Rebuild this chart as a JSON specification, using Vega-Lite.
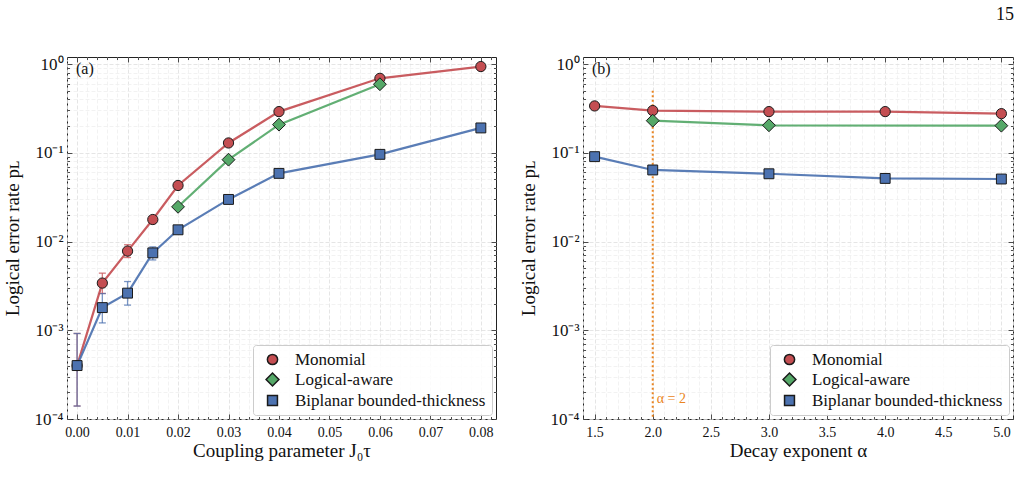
{
  "$schema": "https://vega.github.io/schema/vega-lite/v6.json",
  "padding": {"left": 2, "top": 5, "right": 0, "bottom": 0},
  "bounds": "flush",
  "spacing": 87,
  "title": {"text": "15", "anchor": "end", "fontSize": 18, "fontWeight": "normal", "offset": 31, "color": "#111"},
  "config": {
    "font": "Liberation Serif",
    "view": {"stroke": "#222", "strokeWidth": 1},
    "axis": {
      "labelFont": "Liberation Serif",
      "labelFontSize": 14,
      "labelColor": "#111",
      "titleFont": "Liberation Serif",
      "titleFontSize": 19,
      "titleFontWeight": "normal",
      "titleColor": "#111",
      "tickColor": "#222",
      "tickWidth": 0.8,
      "domain": false,
      "labelFlush": false,
      "labelOverlap": false,
      "labelBound": false,
      "gridDash": [4, 2],
      "gridWidth": 0.8
    },
    "legend": {
      "orient": "bottom-right",
      "offset": 4,
      "labelFont": "Liberation Serif",
      "labelFontSize": 17,
      "labelColor": "#111",
      "labelLimit": 400,
      "symbolOffset": 5,
      "labelOffset": 14,
      "rowPadding": 2,
      "padding": 6,
      "fillColor": "rgba(255,255,255,0.85)",
      "strokeColor": "#cccccc",
      "cornerRadius": 3
    },
    "title": {"font": "Liberation Serif"}
  },
  "datasets": {
    "coupling": [
      {"J0tau": 0.0, "method": "Monomial", "pL": 0.0004, "lo": 0.00014, "hi": 0.00092},
      {"J0tau": 0.005, "method": "Monomial", "pL": 0.0034, "lo": 0.0026, "hi": 0.0044},
      {"J0tau": 0.01, "method": "Monomial", "pL": 0.0078, "lo": 0.0066, "hi": 0.0092},
      {"J0tau": 0.015, "method": "Monomial", "pL": 0.0177},
      {"J0tau": 0.02, "method": "Monomial", "pL": 0.0428},
      {"J0tau": 0.03, "method": "Monomial", "pL": 0.129},
      {"J0tau": 0.04, "method": "Monomial", "pL": 0.291},
      {"J0tau": 0.06, "method": "Monomial", "pL": 0.69},
      {"J0tau": 0.08, "method": "Monomial", "pL": 0.937},
      {"J0tau": 0.02, "method": "Logical-aware", "pL": 0.0246},
      {"J0tau": 0.03, "method": "Logical-aware", "pL": 0.0836},
      {"J0tau": 0.04, "method": "Logical-aware", "pL": 0.2075},
      {"J0tau": 0.06, "method": "Logical-aware", "pL": 0.592},
      {"J0tau": 0.0, "method": "Biplanar bounded-thickness", "pL": 0.0004, "lo": 0.00014, "hi": 0.00092},
      {"J0tau": 0.005, "method": "Biplanar bounded-thickness", "pL": 0.0018, "lo": 0.00121, "hi": 0.00259},
      {"J0tau": 0.01, "method": "Biplanar bounded-thickness", "pL": 0.00262, "lo": 0.00192, "hi": 0.00354},
      {"J0tau": 0.015, "method": "Biplanar bounded-thickness", "pL": 0.00745, "lo": 0.0062, "hi": 0.0087},
      {"J0tau": 0.02, "method": "Biplanar bounded-thickness", "pL": 0.01355},
      {"J0tau": 0.03, "method": "Biplanar bounded-thickness", "pL": 0.0298},
      {"J0tau": 0.04, "method": "Biplanar bounded-thickness", "pL": 0.0586},
      {"J0tau": 0.06, "method": "Biplanar bounded-thickness", "pL": 0.096},
      {"J0tau": 0.08, "method": "Biplanar bounded-thickness", "pL": 0.1905}
    ],
    "decay": [
      {"alpha": 1.5, "method": "Monomial", "pL": 0.337},
      {"alpha": 2.0, "method": "Monomial", "pL": 0.299},
      {"alpha": 3.0, "method": "Monomial", "pL": 0.291},
      {"alpha": 4.0, "method": "Monomial", "pL": 0.291},
      {"alpha": 5.0, "method": "Monomial", "pL": 0.276},
      {"alpha": 2.0, "method": "Logical-aware", "pL": 0.23},
      {"alpha": 3.0, "method": "Logical-aware", "pL": 0.204},
      {"alpha": 5.0, "method": "Logical-aware", "pL": 0.202},
      {"alpha": 1.5, "method": "Biplanar bounded-thickness", "pL": 0.0904},
      {"alpha": 2.0, "method": "Biplanar bounded-thickness", "pL": 0.064},
      {"alpha": 3.0, "method": "Biplanar bounded-thickness", "pL": 0.058},
      {"alpha": 4.0, "method": "Biplanar bounded-thickness", "pL": 0.0514},
      {"alpha": 5.0, "method": "Biplanar bounded-thickness", "pL": 0.0506}
    ],
    "panelLabelA": [{"label": "(a)"}],
    "panelLabelB": [{"label": "(b)"}],
    "reference": [{"alpha": 2, "label": "α = 2"}]
  },
  "resolve": {
    "scale": {"fill": "independent", "shape": "independent", "stroke": "independent", "size": "independent", "color": "independent"},
    "legend": {"fill": "independent", "shape": "independent", "size": "independent"}
  },
  "hconcat": [
    {
      "width": 429,
      "height": 362,
      "data": {"name": "coupling"},
      "resolve": {"axis": {"x": "independent", "y": "independent"}},
      "layer": [
        {
          "transform": [{"filter": "isValid(datum.lo)"}],
          "mark": {"type": "rule", "strokeWidth": 1.3, "opacity": 0.75},
          "encoding": {
            "x": {
              "field": "J0tau", "type": "quantitative",
              "scale": {"domain": [-0.002, 0.083], "nice": false, "zero": false},
              "axis": {
                "orient": "bottom",
                "title": "Coupling parameter J₀τ",
                "titlePadding": 0,
                "values": [-0.002, 0, 0.002, 0.004, 0.006, 0.008, 0.01, 0.012, 0.014, 0.016, 0.018, 0.02, 0.022, 0.024, 0.026, 0.028, 0.03, 0.032, 0.034, 0.036, 0.038, 0.04, 0.042, 0.044, 0.046, 0.048, 0.05, 0.052, 0.054, 0.056, 0.058, 0.06, 0.062, 0.064, 0.066, 0.068, 0.07, 0.072, 0.074, 0.076, 0.078, 0.08, 0.082],
                "labelExpr": "abs(datum.value*100 - round(datum.value*100)) < 1e-6 ? format(datum.value, '.2f') : ''",
                "labelPadding": 11,
                "tickSize": {"condition": {"test": "abs(datum.value*100 - round(datum.value*100)) < 1e-6", "value": -5}, "value": -2.5},
                "grid": true,
                "gridColor": {"condition": {"test": "abs(datum.value*100 - round(datum.value*100)) < 1e-6", "value": "#dedede"}, "value": "#efefef"}
              }
            },
            "y": {
              "field": "lo", "type": "quantitative",
              "scale": {"type": "log", "domain": [0.0001, 1.2], "nice": false},
              "axis": {
                "orient": "left",
                "title": "Logical error rate pʟ",
                "titlePadding": 12,
                "labelFontSize": 17,
                "values": [0.0001, 0.0002, 0.0003, 0.0004, 0.0005, 0.0006, 0.0007, 0.0008, 0.0009, 0.001, 0.002, 0.003, 0.004, 0.005, 0.006, 0.007, 0.008, 0.009, 0.01, 0.02, 0.03, 0.04, 0.05, 0.06, 0.07, 0.08, 0.09, 0.1, 0.2, 0.3, 0.4, 0.5, 0.6, 0.7, 0.8, 0.9, 1],
                "labelExpr": "abs(log(datum.value)/LN10 - round(log(datum.value)/LN10)) < 1e-6 ? '10' + ['⁰','⁻¹','⁻²','⁻³','⁻⁴'][round(-log(datum.value)/LN10)] : ''",
                "labelPadding": 9,
                "tickSize": {"condition": {"test": "abs(log(datum.value)/LN10 - round(log(datum.value)/LN10)) < 1e-6", "value": -5}, "value": -2.5},
                "grid": true,
                "gridColor": {"condition": {"test": "abs(log(datum.value)/LN10 - round(log(datum.value)/LN10)) < 1e-6", "value": "#dedede"}, "value": "#efefef"}
              }
            },
            "y2": {"field": "hi"},
            "stroke": {
              "field": "method", "type": "nominal", "legend": null,
              "scale": {"domain": ["Biplanar bounded-thickness", "Logical-aware", "Monomial"], "range": ["#4c72b0", "#55a868", "#c44e52"]}
            }
          }
        },
        {
          "transform": [{"filter": "isValid(datum.lo)"}],
          "mark": {"type": "tick", "orient": "horizontal", "size": 7, "thickness": 1.3, "opacity": 0.75},
          "encoding": {
            "x": {"field": "J0tau", "type": "quantitative", "axis": null},
            "y": {"field": "lo", "type": "quantitative", "axis": null},
            "color": {"field": "method", "type": "nominal", "legend": null,
              "scale": {"domain": ["Biplanar bounded-thickness", "Logical-aware", "Monomial"], "range": ["#4c72b0", "#55a868", "#c44e52"]}}
          }
        },
        {
          "transform": [{"filter": "isValid(datum.hi)"}],
          "mark": {"type": "tick", "orient": "horizontal", "size": 7, "thickness": 1.3, "opacity": 0.75},
          "encoding": {
            "x": {"field": "J0tau", "type": "quantitative", "axis": null},
            "y": {"field": "hi", "type": "quantitative", "axis": null},
            "color": {"field": "method", "type": "nominal", "legend": null}
          }
        },
        {
          "mark": {"type": "line", "strokeWidth": 2.2, "opacity": 0.92},
          "encoding": {
            "x": {
              "field": "J0tau", "type": "quantitative",
              "axis": {
                "orient": "top", "title": null, "labels": false, "grid": false,
                "values": [-0.002, 0, 0.002, 0.004, 0.006, 0.008, 0.01, 0.012, 0.014, 0.016, 0.018, 0.02, 0.022, 0.024, 0.026, 0.028, 0.03, 0.032, 0.034, 0.036, 0.038, 0.04, 0.042, 0.044, 0.046, 0.048, 0.05, 0.052, 0.054, 0.056, 0.058, 0.06, 0.062, 0.064, 0.066, 0.068, 0.07, 0.072, 0.074, 0.076, 0.078, 0.08, 0.082],
                "tickSize": {"condition": {"test": "abs(datum.value*100 - round(datum.value*100)) < 1e-6", "value": -5}, "value": -2.5}
              }
            },
            "y": {
              "field": "pL", "type": "quantitative",
              "axis": {
                "orient": "right", "title": null, "labels": false, "grid": false,
                "values": [0.0001, 0.0002, 0.0003, 0.0004, 0.0005, 0.0006, 0.0007, 0.0008, 0.0009, 0.001, 0.002, 0.003, 0.004, 0.005, 0.006, 0.007, 0.008, 0.009, 0.01, 0.02, 0.03, 0.04, 0.05, 0.06, 0.07, 0.08, 0.09, 0.1, 0.2, 0.3, 0.4, 0.5, 0.6, 0.7, 0.8, 0.9, 1],
                "tickSize": {"condition": {"test": "abs(log(datum.value)/LN10 - round(log(datum.value)/LN10)) < 1e-6", "value": -5}, "value": -2.5}
              }
            },
            "stroke": {"field": "method", "type": "nominal", "legend": null}
          }
        },
        {
          "mark": {"type": "point", "filled": true, "opacity": 1, "stroke": "#1a1a1a", "strokeWidth": 1},
          "encoding": {
            "x": {"field": "J0tau", "type": "quantitative", "axis": null},
            "y": {"field": "pL", "type": "quantitative", "axis": null},
            "fill": {
              "field": "method", "type": "nominal", "title": null,
              "scale": {"domain": ["Monomial", "Logical-aware", "Biplanar bounded-thickness"], "range": ["#c44e52", "#55a868", "#4c72b0"]},
              "legend": {"encode": {"symbols": {"update": {"stroke": {"value": "#1a1a1a"}, "strokeWidth": {"value": 1}}}}}
            },
            "shape": {
              "field": "method", "type": "nominal", "title": null,
              "scale": {"domain": ["Monomial", "Logical-aware", "Biplanar bounded-thickness"], "range": ["circle", "diamond", "square"]}
            },
            "size": {
              "field": "method", "type": "nominal", "title": null,
              "scale": {"type": "ordinal", "domain": ["Monomial", "Logical-aware", "Biplanar bounded-thickness"], "range": [105, 165, 98]}
            }
          }
        },
        {
          "data": {"name": "panelLabelA"},
          "mark": {"type": "text", "align": "left", "baseline": "top", "dx": 9, "dy": 4, "fontSize": 16, "color": "#111"},
          "encoding": {
            "x": {"datum": -0.002, "type": "quantitative", "axis": null},
            "y": {"datum": 1.2, "type": "quantitative", "axis": null},
            "text": {"field": "label"}
          }
        }
      ]
    },
    {
      "width": 430,
      "height": 362,
      "data": {"name": "decay"},
      "resolve": {"axis": {"x": "independent", "y": "independent"}},
      "layer": [
        {
          "data": {"name": "reference"},
          "mark": {"type": "rule", "strokeDash": [2, 2.5], "strokeWidth": 2, "color": "#ea8420"},
          "encoding": {
            "x": {
              "field": "alpha", "type": "quantitative",
              "scale": {"domain": [1.4, 5.1], "nice": false, "zero": false},
              "axis": {
                "orient": "bottom",
                "title": "Decay exponent α",
                "titlePadding": 0,
                "values": [1.4, 1.5, 1.6, 1.7, 1.8, 1.9, 2.0, 2.1, 2.2, 2.3, 2.4, 2.5, 2.6, 2.7, 2.8, 2.9, 3.0, 3.1, 3.2, 3.3, 3.4, 3.5, 3.6, 3.7, 3.8, 3.9, 4.0, 4.1, 4.2, 4.3, 4.4, 4.5, 4.6, 4.7, 4.8, 4.9, 5.0, 5.1],
                "labelExpr": "abs(datum.value*2 - round(datum.value*2)) < 1e-6 ? format(datum.value, '.1f') : ''",
                "labelPadding": 11,
                "tickSize": {"condition": {"test": "abs(datum.value*2 - round(datum.value*2)) < 1e-6", "value": -5}, "value": -2.5},
                "grid": true,
                "gridColor": {"condition": {"test": "abs(datum.value*2 - round(datum.value*2)) < 1e-6", "value": "#dedede"}, "value": "#efefef"}
              }
            },
            "y": {
              "datum": 0.5, "type": "quantitative",
              "scale": {"type": "log", "domain": [0.0001, 1.2], "nice": false},
              "axis": {
                "orient": "left",
                "title": "Logical error rate pʟ",
                "titlePadding": 12,
                "labelFontSize": 17,
                "values": [0.0001, 0.0002, 0.0003, 0.0004, 0.0005, 0.0006, 0.0007, 0.0008, 0.0009, 0.001, 0.002, 0.003, 0.004, 0.005, 0.006, 0.007, 0.008, 0.009, 0.01, 0.02, 0.03, 0.04, 0.05, 0.06, 0.07, 0.08, 0.09, 0.1, 0.2, 0.3, 0.4, 0.5, 0.6, 0.7, 0.8, 0.9, 1],
                "labelExpr": "abs(log(datum.value)/LN10 - round(log(datum.value)/LN10)) < 1e-6 ? '10' + ['⁰','⁻¹','⁻²','⁻³','⁻⁴'][round(-log(datum.value)/LN10)] : ''",
                "labelPadding": 9,
                "tickSize": {"condition": {"test": "abs(log(datum.value)/LN10 - round(log(datum.value)/LN10)) < 1e-6", "value": -5}, "value": -2.5},
                "grid": true,
                "gridColor": {"condition": {"test": "abs(log(datum.value)/LN10 - round(log(datum.value)/LN10)) < 1e-6", "value": "#dedede"}, "value": "#efefef"}
              }
            }
          }
        },
        {
          "data": {"name": "reference"},
          "mark": {"type": "text", "align": "left", "baseline": "middle", "dx": 4, "fontSize": 14, "color": "#ea8420"},
          "encoding": {
            "x": {"field": "alpha", "type": "quantitative", "axis": null},
            "y": {"datum": 0.00017, "type": "quantitative", "axis": null},
            "text": {"field": "label"}
          }
        },
        {
          "mark": {"type": "line", "strokeWidth": 2.2, "opacity": 0.92},
          "encoding": {
            "x": {
              "field": "alpha", "type": "quantitative",
              "axis": {
                "orient": "top", "title": null, "labels": false, "grid": false,
                "values": [1.4, 1.5, 1.6, 1.7, 1.8, 1.9, 2.0, 2.1, 2.2, 2.3, 2.4, 2.5, 2.6, 2.7, 2.8, 2.9, 3.0, 3.1, 3.2, 3.3, 3.4, 3.5, 3.6, 3.7, 3.8, 3.9, 4.0, 4.1, 4.2, 4.3, 4.4, 4.5, 4.6, 4.7, 4.8, 4.9, 5.0, 5.1],
                "tickSize": {"condition": {"test": "abs(datum.value*2 - round(datum.value*2)) < 1e-6", "value": -5}, "value": -2.5}
              }
            },
            "y": {
              "field": "pL", "type": "quantitative",
              "axis": {
                "orient": "right", "title": null, "labels": false, "grid": false,
                "values": [0.0001, 0.0002, 0.0003, 0.0004, 0.0005, 0.0006, 0.0007, 0.0008, 0.0009, 0.001, 0.002, 0.003, 0.004, 0.005, 0.006, 0.007, 0.008, 0.009, 0.01, 0.02, 0.03, 0.04, 0.05, 0.06, 0.07, 0.08, 0.09, 0.1, 0.2, 0.3, 0.4, 0.5, 0.6, 0.7, 0.8, 0.9, 1],
                "tickSize": {"condition": {"test": "abs(log(datum.value)/LN10 - round(log(datum.value)/LN10)) < 1e-6", "value": -5}, "value": -2.5}
              }
            },
            "stroke": {
              "field": "method", "type": "nominal", "legend": null,
              "scale": {"domain": ["Biplanar bounded-thickness", "Logical-aware", "Monomial"], "range": ["#4c72b0", "#55a868", "#c44e52"]}
            }
          }
        },
        {
          "mark": {"type": "point", "filled": true, "opacity": 1, "stroke": "#1a1a1a", "strokeWidth": 1},
          "encoding": {
            "x": {"field": "alpha", "type": "quantitative", "axis": null},
            "y": {"field": "pL", "type": "quantitative", "axis": null},
            "fill": {
              "field": "method", "type": "nominal", "title": null,
              "scale": {"domain": ["Monomial", "Logical-aware", "Biplanar bounded-thickness"], "range": ["#c44e52", "#55a868", "#4c72b0"]},
              "legend": {"encode": {"symbols": {"update": {"stroke": {"value": "#1a1a1a"}, "strokeWidth": {"value": 1}}}}}
            },
            "shape": {
              "field": "method", "type": "nominal", "title": null,
              "scale": {"domain": ["Monomial", "Logical-aware", "Biplanar bounded-thickness"], "range": ["circle", "diamond", "square"]}
            },
            "size": {
              "field": "method", "type": "nominal", "title": null,
              "scale": {"type": "ordinal", "domain": ["Monomial", "Logical-aware", "Biplanar bounded-thickness"], "range": [105, 165, 98]}
            }
          }
        },
        {
          "data": {"name": "panelLabelB"},
          "mark": {"type": "text", "align": "left", "baseline": "top", "dx": 9, "dy": 4, "fontSize": 16, "color": "#111"},
          "encoding": {
            "x": {"datum": 1.4, "type": "quantitative", "axis": null},
            "y": {"datum": 1.2, "type": "quantitative", "axis": null},
            "text": {"field": "label"}
          }
        }
      ]
    }
  ]
}
